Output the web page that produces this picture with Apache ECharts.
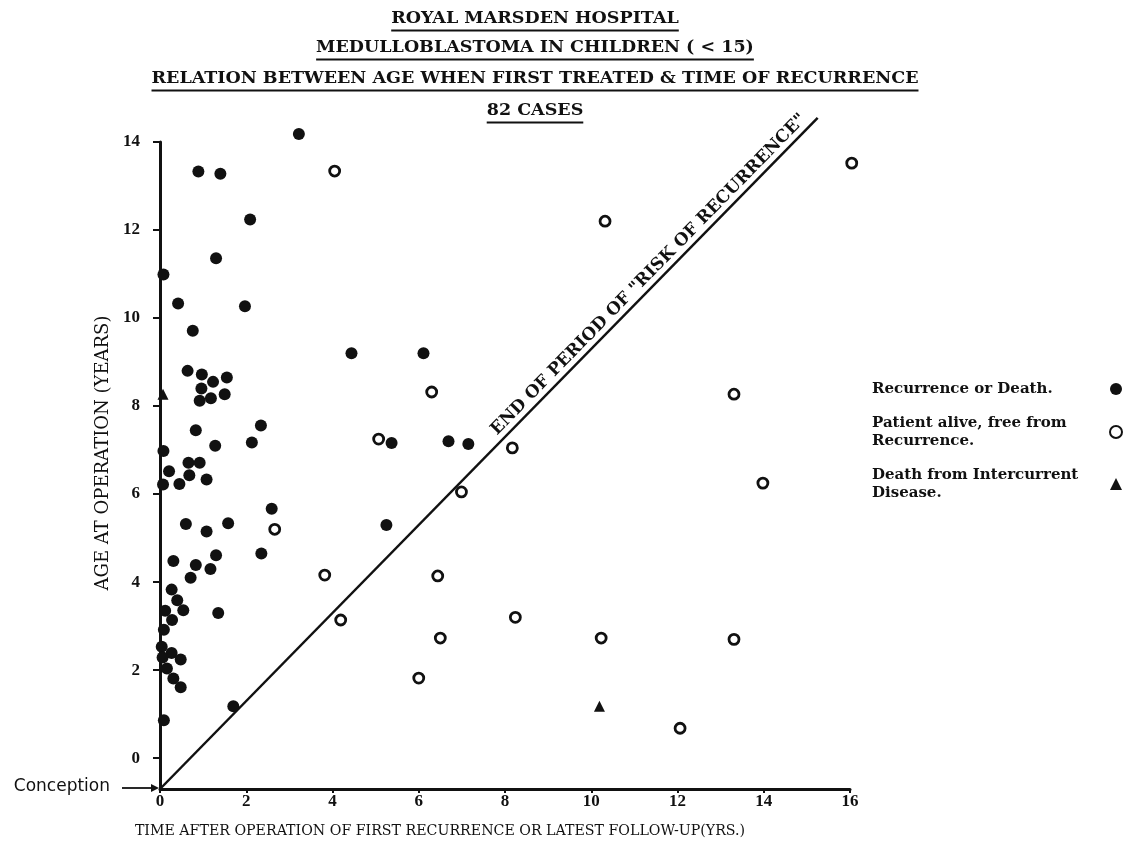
<!DOCTYPE html>
<html><head><meta charset="utf-8">
<script src="https://cdn.jsdelivr.net/npm/echarts@6/dist/echarts.min.js"></script>
<style>html,body{margin:0;padding:0;background:#fff}#c{width:1129px;height:846px}</style>
</head><body><div id="c"></div>
<script>
const titleLines = [
  'ROYAL MARSDEN HOSPITAL',
  'MEDULLOBLASTOMA IN CHILDREN ( < 15)',
  'RELATION BETWEEN AGE WHEN FIRST TREATED & TIME OF RECURRENCE',
  '82 CASES'
];
const xTickValues = [0, 2, 4, 6, 8, 10, 12, 14, 16];
const yTickValues = [0, 2, 4, 6, 8, 10, 12, 14];
const xName = 'TIME AFTER OPERATION OF FIRST RECURRENCE OR LATEST FOLLOW-UP(YRS.)';
const yName = 'AGE AT OPERATION (YEARS)';
const riskLabel = 'END OF PERIOD OF "RISK OF RECURRENCE"';
const conceptionLabel = 'Conception';
const seriesNames = ['Recurrence or Death.', 'Patient alive, free from\nRecurrence.', 'Death from Intercurrent\nDisease.'];

// [time after operation (yrs), age at operation (yrs)]
const recurrenceOrDeath = [
  [3.22,14.18],[0.89,13.33],[1.40,13.28],[2.09,12.24],[1.30,11.36],[0.08,10.99],[0.42,10.33],
  [1.97,10.27],[0.76,9.71],[0.64,8.80],[0.97,8.72],[1.23,8.55],[1.55,8.65],[0.96,8.40],
  [1.50,8.27],[1.18,8.18],[0.92,8.12],[0.83,7.45],[2.34,7.56],[1.28,7.10],[2.13,7.17],
  [0.08,6.98],[0.21,6.52],[0.66,6.71],[0.92,6.71],[0.68,6.43],[0.07,6.22],[0.45,6.23],
  [1.08,6.33],[2.59,5.67],[0.60,5.32],[1.08,5.15],[1.58,5.34],[1.30,4.61],[2.35,4.65],
  [0.31,4.48],[0.83,4.39],[1.17,4.30],[0.71,4.10],[0.27,3.83],[0.40,3.59],[0.54,3.36],
  [1.35,3.30],[0.12,3.35],[0.28,3.14],[0.09,2.92],[0.04,2.53],[0.27,2.39],[0.48,2.24],
  [0.06,2.29],[0.16,2.04],[0.31,1.81],[0.48,1.61],[1.70,1.18],[0.09,0.86],
  [4.44,9.20],[6.11,9.20],[5.37,7.16],[6.69,7.20],[7.15,7.14],[5.25,5.30]
];
const aliveFree = [
  [4.05,13.34],[10.32,12.20],[16.04,13.52],[6.30,8.32],[13.31,8.27],[5.07,7.25],[8.17,7.05],
  [6.99,6.05],[13.98,6.25],[2.66,5.20],[3.82,4.16],[6.44,4.14],[4.19,3.14],[6.50,2.73],
  [8.24,3.20],[6.00,1.82],[10.23,2.73],[13.31,2.70],[12.06,0.68]
];
const intercurrentDeath = [[0.07,8.27],[10.19,1.18]];
const riskLine = [[0, -0.7], [15.25, 14.55]];

const SERIF = '"DejaVu Serif", "Liberation Serif", serif';
const TICKFONT = '"Liberation Serif", "DejaVu Serif", serif';
const INK = '#111';

const chart = echarts.init(document.getElementById('c'), null, {renderer: 'canvas'});

const ctx = document.createElement('canvas').getContext('2d');
const titleFont = 'bold 17.5px ' + SERIF;
ctx.font = titleFont;
const titleY = [18, 47, 78, 110];
const titleCx = 535;
const titleGraphics = [];
titleLines.forEach((t, i) => {
  const w = ctx.measureText(t).width;
  titleGraphics.push({type: 'text', x: titleCx, y: titleY[i], silent: true,
    style: {text: t, font: titleFont, fill: INK, align: 'center', verticalAlign: 'middle', textAlign: 'center', textVerticalAlign: 'middle'}});
  titleGraphics.push({type: 'line', silent: true,
    shape: {x1: titleCx - w / 2, y1: titleY[i] + 12.5, x2: titleCx + w / 2, y2: titleY[i] + 12.5},
    style: {stroke: INK, lineWidth: 2.2}});
});

const legendRich = {a: {width: 233, align: 'left', color: INK, fontFamily: SERIF, fontWeight: 'bold', fontSize: 15, lineHeight: 18}};

const option = {
  animation: false,
  backgroundColor: '#fff',
  grid: {left: 160, right: 279, top: 142, bottom: 57, containLabel: false},
  xAxis: {
    type: 'value', min: 0, max: 16, interval: 2,
    axisLine: {onZero: false, lineStyle: {color: INK, width: 3}},
    axisTick: {show: true, length: 4, lineStyle: {color: INK, width: 2}},
    axisLabel: {color: INK, fontFamily: TICKFONT, fontWeight: 'bold', fontSize: 17, margin: 4},
    splitLine: {show: false},
    name: xName, nameLocation: 'middle', nameGap: 35,
    nameTextStyle: {color: INK, fontFamily: SERIF, fontSize: 14.2, padding: [0, 130, 0, 0]}
  },
  yAxis: {
    type: 'value', min: -0.7, max: 14,
    axisLine: {onZero: false, lineStyle: {color: INK, width: 3}},
    axisTick: {show: true, length: 7, customValues: yTickValues, lineStyle: {color: INK, width: 2}},
    axisLabel: {color: INK, fontFamily: TICKFONT, fontWeight: 'bold', fontSize: 17, margin: 20, customValues: yTickValues},
    splitLine: {show: false},
    name: yName, nameLocation: 'middle', nameGap: 34, nameRotate: 90,
    nameTextStyle: {color: INK, fontFamily: SERIF, fontSize: 18, padding: [0, 0, 0, 25]}
  },
  legend: {
    orient: 'vertical', left: 867, top: 375, align: 'right', itemGap: 16,
    itemWidth: 12, itemHeight: 12, selectedMode: false,
    data: seriesNames,
    formatter: name => name.split('\n').map(s => '{a|' + s + '}').join('\n'),
    textStyle: {color: INK, fontFamily: SERIF, fontWeight: 'bold', fontSize: 15, lineHeight: 18, rich: legendRich}
  },
  series: [
    {name: seriesNames[0], type: 'scatter', data: recurrenceOrDeath, symbol: 'circle', symbolSize: 12,
     itemStyle: {color: INK, opacity: 1}, clip: false, silent: true},
    {name: seriesNames[1], type: 'scatter', data: aliveFree, symbol: 'circle', symbolSize: 10,
     itemStyle: {color: '#fff', borderColor: INK, borderWidth: 2.8, opacity: 1}, clip: false, silent: true},
    {name: seriesNames[2], type: 'scatter', data: intercurrentDeath, symbol: 'triangle', symbolSize: 11,
     itemStyle: {color: INK, opacity: 1}, clip: false, silent: true},
    {name: 'risk', type: 'line', data: riskLine, clip: false, silent: true, symbol: 'none',
     lineStyle: {color: INK, width: 2.5}, z: 1}
  ],
  graphic: titleGraphics
};
chart.setOption(option);

const o = chart.convertToPixel({gridIndex: 0}, riskLine[0]);
const e = chart.convertToPixel({gridIndex: 0}, riskLine[1]);
const ang = Math.atan2(o[1] - e[1], e[0] - o[0]);
const frac = 0.755;
const nx = -Math.sin(ang), ny = -Math.cos(ang); // unit normal pointing up-left
const lx = o[0] + (e[0] - o[0]) * frac + nx * 11;
const ly = o[1] + (e[1] - o[1]) * frac + ny * 11;

chart.setOption({graphic: titleGraphics.concat([
  {type: 'text', x: lx, y: ly, rotation: ang, silent: true,
   style: {text: riskLabel, font: 'bold 17px ' + SERIF, fill: INK, align: 'center', verticalAlign: 'middle', textAlign: 'center', textVerticalAlign: 'middle'}},
  {type: 'text', x: 110, y: o[1] - 2, silent: true,
   style: {text: conceptionLabel, font: '17px "DejaVu Sans", "Liberation Sans", sans-serif', fill: INK, align: 'right', verticalAlign: 'middle', textAlign: 'right', textVerticalAlign: 'middle'}},
  {type: 'line', silent: true, shape: {x1: 122, y1: o[1] - 1, x2: o[0] - 6, y2: o[1] - 1}, style: {stroke: INK, lineWidth: 1.8}},
  {type: 'polygon', silent: true, shape: {points: [[o[0] - 1, o[1] - 1], [o[0] - 9, o[1] - 5], [o[0] - 9, o[1] + 3]]}, style: {fill: INK}}
])});
</script></body></html>
